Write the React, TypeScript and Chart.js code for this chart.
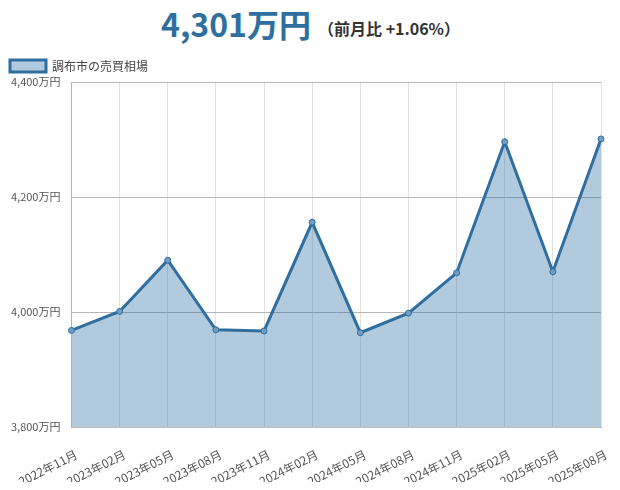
import React, { useEffect, useRef } from "react";
import { Chart, registerables } from "chart.js";

Chart.register(...registerables);

const categories = [
  "2022年11月", "2023年02月", "2023年05月", "2023年08月", "2023年11月", "2024年02月",
  "2024年05月", "2024年08月", "2024年11月", "2025年02月", "2025年05月", "2025年08月",
];
const prices = [3968, 4001, 4090, 3969, 3967, 4156, 3964, 3998, 4068, 4296, 4070, 4301];
const seriesName = "調布市の売買相場";
const headline = "4,301万円";
const change = "（前月比 +1.06%）";

const FONT = "'Noto Sans CJK JP', 'Noto Sans', sans-serif";

export default function App() {
  const ref = useRef<HTMLCanvasElement | null>(null);
  useEffect(() => {
    if (!ref.current) return;
    const chart = new Chart(ref.current, {
      type: "line",
      data: {
        labels: categories,
        datasets: [
          {
            label: seriesName,
            data: prices,
            borderColor: "#2f6e9f",
            backgroundColor: "rgba(47,112,164,0.37)",
            borderWidth: 3,
            fill: true,
            tension: 0,
            pointRadius: 3,
            pointBorderWidth: 1,
            pointBackgroundColor: "#6f9dc4",
            pointBorderColor: "#2f6e9f",
          },
        ],
      },
      options: {
        animation: false,
        responsive: false,
        layout: { padding: { left: 0, right: 19, top: 0, bottom: 0 } },
        plugins: {
          legend: {
            align: "start",
            labels: {
              font: { family: FONT, size: 12 },
              color: "#444",
              boxWidth: 36,
              boxHeight: 12,
            },
          },
          tooltip: { enabled: false },
        },
        scales: {
          x: {
            offset: false,
            afterFit: (scale: any) => {
              scale.height = 55;
            },
            grid: { color: "#e2e2e2", tickColor: "rgba(0,0,0,0)" },
            border: { color: "#bbb" },
            ticks: {
              font: { family: FONT, size: 12 },
              color: "#555",
              minRotation: 27,
              maxRotation: 27,
              autoSkip: false,
              padding: 12,
              labelOffset: 5,
            },
          },
          y: {
            min: 3800,
            max: 4400,
            afterFit: (scale: any) => {
              scale.width += 8;
            },
            grid: { color: "#b4b4b4", tickColor: "rgba(0,0,0,0)" },
            border: { color: "#b4b4b4" },
            ticks: {
              stepSize: 200,
              font: { family: FONT, size: 11 },
              color: "#555",
              callback: (v: any) => Number(v).toLocaleString("en-US") + "万円",
            },
          },
        },
      },
    });
    return () => chart.destroy();
  }, []);
  return (
    <div style={{ width: 620, marginLeft: -8, fontFamily: FONT }}>
      <div style={{ height: 42, position: "relative", whiteSpace: "nowrap" }}>
        <span style={{ position: "absolute", left: 161, top: -1, lineHeight: 1, fontSize: 32, fontWeight: 700, color: "#2e6fa0" }}>{headline}</span>
        <span style={{ position: "absolute", left: 318, top: 12, lineHeight: 1, fontSize: 16, fontWeight: 700, color: "#333" }}>{change}</span>
      </div>
      <canvas ref={ref} width={620} height={432} style={{ display: "block" }} />
    </div>
  );
}
